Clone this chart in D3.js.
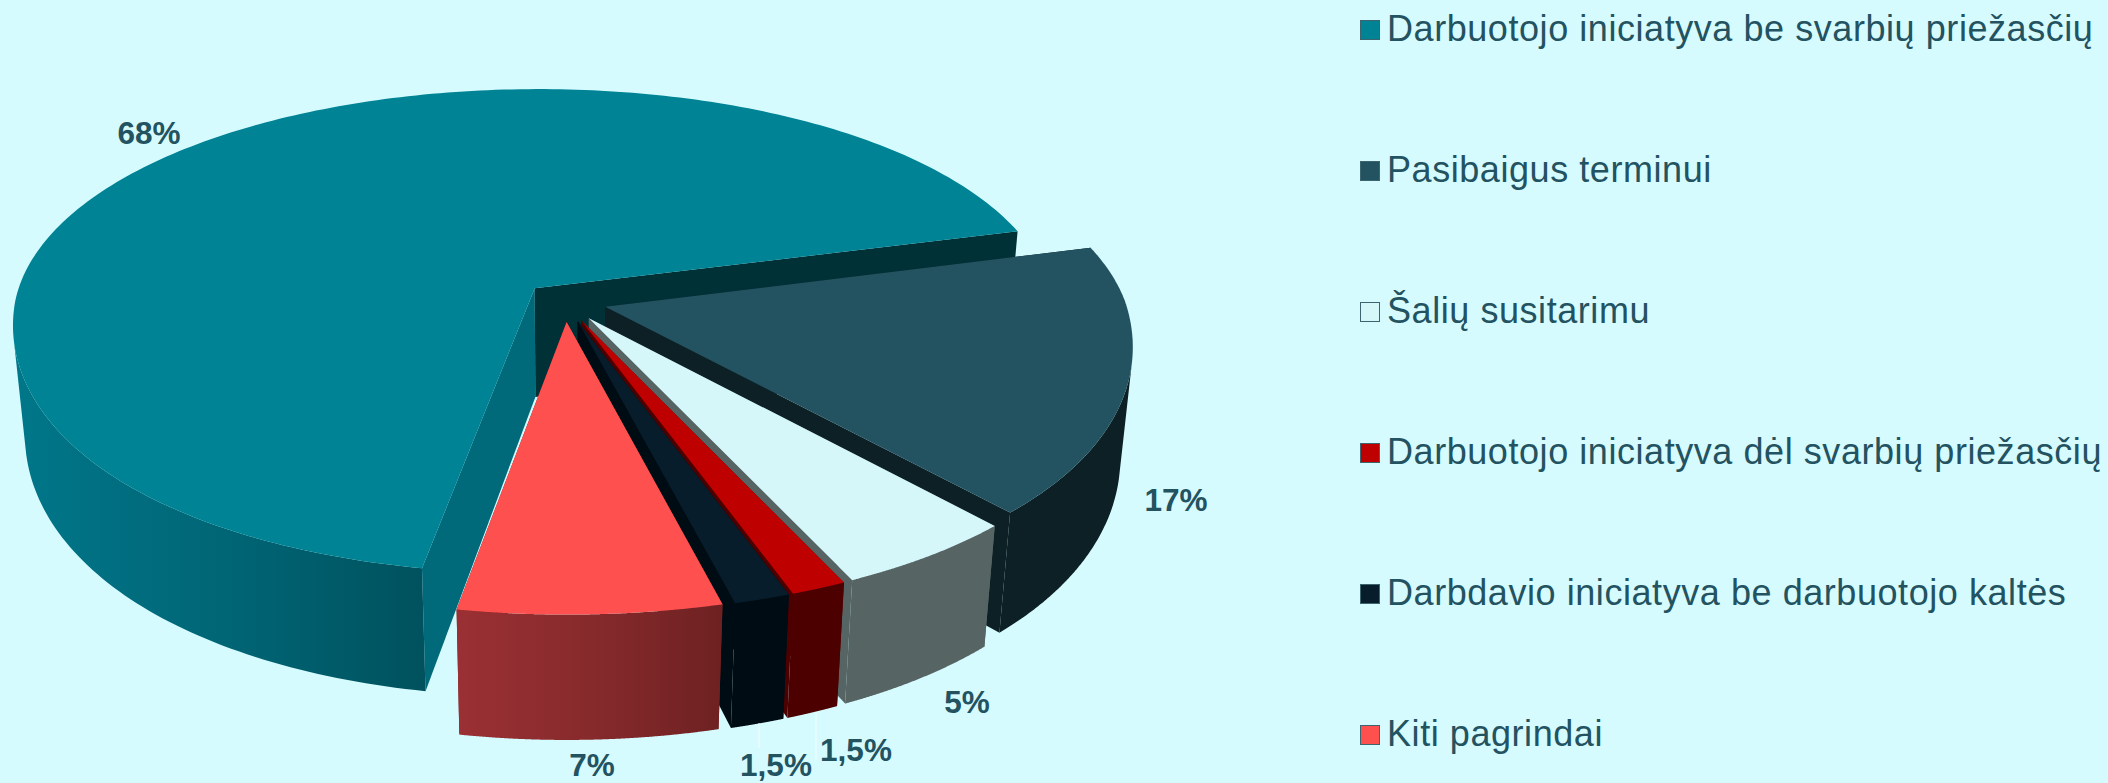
<!DOCTYPE html>
<html><head><meta charset="utf-8">
<script src="https://cdn.jsdelivr.net/npm/d3@7"></script>
<style>html,body{margin:0;padding:0;background:#d6fbff;overflow:hidden}svg{display:block}text{font-family:"Liberation Sans",Arial,sans-serif}</style>
</head><body><svg id="c" width="2108" height="783"></svg>
<script>
const categories=["Darbuotojo iniciatyva be svarbių priežasčių","Pasibaigus terminui","Šalių susitarimu","Darbuotojo iniciatyva dėl svarbių priežasčių","Darbdavio iniciatyva be darbuotojo kaltės","Kiti pagrindai"];
const values=[68,17,5,1.5,1.5,7];
const valueLabels=["68%","17%","5%","1,5%","1,5%","7%"];
const topColors=["#008394","#235260","#d5f7fa","#bf0000","#071d2b","#ff5050"];
const radialColors=["#003137","#0d2025","#566464","#4d0000","#000c14","#6e2122"];
const startEdgeColors=["#00697a","#0d2025","#566464","#4d0000","#000c14","#6e2122"];
const wallStops=[["#00778a","#006676","#00525e"],["#0d2025","#0d2025","#0d2025"],["#566464","#566464","#566464"],["#4d0000","#4d0000","#4d0000"],["#000c14","#000c14","#000c14"],["#9a3033","#872a2c","#6e2122"]];
const labelPos=[[149,133],[1176,500],[967,702],[776,765],[856,750],[592,765]];
const leaders=[null,null,null,[759,723,759,748],[816,712,816,760],null];

const P={cx:565,cy:301,A:520,B:237,C:112,kx:0.14,ky:0.17,m:0.022,e:0.08,bend:20};
const proj=(u,v,z)=>[P.cx+P.A*u/(1-P.kx*v+P.m*z),
  P.cy+(P.B*v+P.C*z)/(1-P.ky*v+P.m*z)+P.bend*Math.max(0,v)*Math.max(0,1.17-v*v)];
const svg=d3.select("#c");
const rad=d3.scaleLinear().domain([0,360]).range([0,2*Math.PI]);
const arcs=d3.pie().sort(null).value(d=>d).startAngle(rad(190.4)).endAngle(rad(550.4))(values);
const line=d3.line();
const defs=svg.append("defs");
const layer=svg.append("g");

arcs.forEach((a,i)=>{
  const mid=(a.startAngle+a.endAngle)/2;
  const ox=P.e*Math.sin(mid),oy=-P.e*Math.cos(mid);
  const pt=(t,z)=>proj(ox+Math.sin(t),oy-Math.cos(t),z);
  const c=z=>proj(ox,oy,z);
  const ts=d3.range(0,241).map(j=>a.startAngle+(a.endAngle-a.startAngle)*j/240);
  // keep only the part of the outer wall that faces the viewer
  const facing=ts.filter((t,j)=>{
    const t2=j<240?ts[j+1]:t, t1=j<240?t:ts[j-1];
    const p=pt(t1,0),q=pt(t2,0),r=pt(t1,1);
    return (q[0]-p[0])*(r[1]-p[1])-(q[1]-p[1])*(r[0]-p[0])<0;
  });
  const topArc=ts.map(t=>pt(t,0));
  const gid="w"+i;
  const fx=facing.map(t=>pt(t,0)[0]);
  const grad=defs.append("linearGradient").attr("id",gid).attr("gradientUnits","userSpaceOnUse")
    .attr("x1",d3.min(fx)||0).attr("x2",d3.max(fx)||1).attr("y1",0).attr("y2",0);
  wallStops[i].forEach((s,j)=>grad.append("stop").attr("offset",j/2).attr("stop-color",s));
  const g=layer.append("g").attr("class","slice");
  g.append("path").attr("d",line([c(0),pt(a.startAngle,0),pt(a.startAngle,1),c(1)])+"Z").attr("fill",startEdgeColors[i]);
  g.append("path").attr("d",line([c(0),pt(a.endAngle,0),pt(a.endAngle,1),c(1)])+"Z").attr("fill",radialColors[i]);
  if(facing.length>1) g.append("path").attr("d",line(facing.map(t=>pt(t,0)).concat(facing.slice().reverse().map(t=>pt(t,1))))+"Z").attr("fill",`url(#${gid})`);
  g.append("path").attr("d",line([c(0)].concat(topArc))+"Z").attr("fill",topColors[i]);
});

leaders.forEach(l=>{if(l)svg.append("line").attr("x1",l[0]).attr("y1",l[1]).attr("x2",l[2]).attr("y2",l[3]).attr("stroke","#f2fdff").attr("stroke-width",1);});

svg.append("g").selectAll("text").data(valueLabels).join("text")
  .attr("x",(d,i)=>labelPos[i][0]).attr("y",(d,i)=>labelPos[i][1]).attr("dy","0.35em")
  .attr("text-anchor","middle").attr("font-size",31.5).attr("font-weight","bold").attr("fill","#235260").text(d=>d);

const y=d3.scalePoint().domain(categories).range([30,735]);
const lg=svg.append("g").selectAll("g").data(categories).join("g").attr("transform",d=>`translate(1360,${y(d)})`);
lg.append("rect").attr("x",0.5).attr("y",-9.5).attr("width",19).attr("height",19).attr("fill",(d,i)=>topColors[i]).attr("stroke","#3d6570").attr("stroke-width",1);
lg.append("text").attr("x",27).attr("dy","0.31em").attr("font-size",36).attr("letter-spacing",0.56).attr("fill","#235260").text(d=>d);
</script></body></html>
